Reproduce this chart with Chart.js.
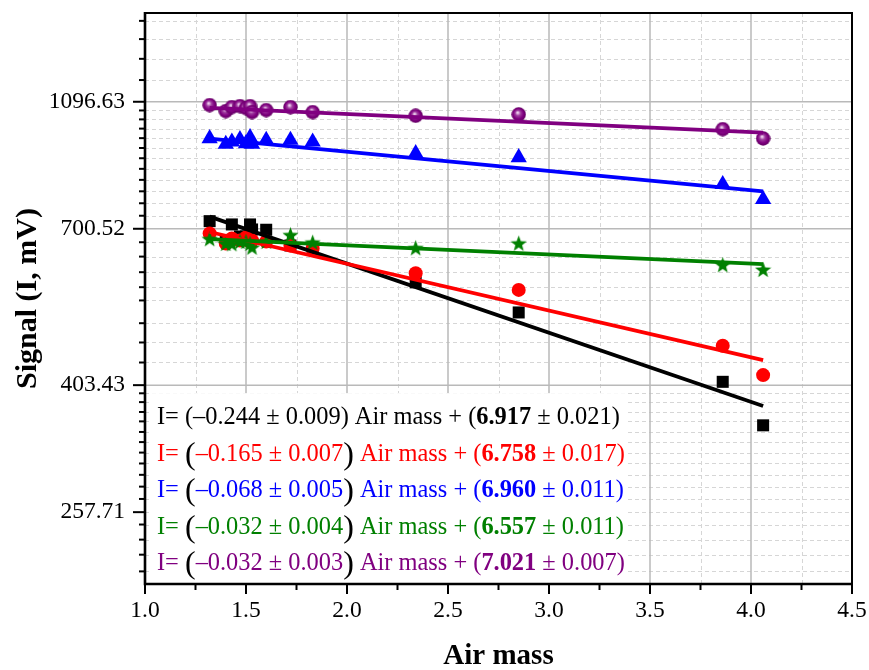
<!DOCTYPE html>
<html><head><meta charset="utf-8">
<script src="https://cdn.jsdelivr.net/npm/chart.js@4/dist/chart.umd.min.js"></script>
<style>html,body{margin:0;padding:0;background:#fff}#wrap{width:869px;height:670px;position:relative}</style>
</head><body><div id="wrap"><canvas id="c"></canvas></div>
<script>
// ---- data ----
const airMass      = [1.32, 1.40, 1.43, 1.47, 1.50, 1.52, 1.53, 1.60, 1.72, 1.83, 2.34, 2.85, 3.86, 4.06];
const signalBlack  = [719.6, 672.1, 711.3, 681.7, 681.7, 711.3, 698.8, 698.1, 660.4, 651.1, 579.8, 521.4, 408.2, 350.1];
const signalRed    = [689.0, 665.1, 677.0, 672.1, 679.3, 669.8, 672.1, 669.8, 660.4, 653.4, 598.8, 564.6, 463.6, 418.0];
const signalBlue   = [963.5, 944.3, 952.0, 960.1, 946.6, 966.9, 944.3, 957.7, 957.7, 952.0, 913.6, 900.8, 819.6, 777.2];
const signalGreen  = [676.3, 665.1, 664.4, 669.8, 669.8, 665.1, 656.4, 669.8, 685.8, 668.1, 655.0, 665.8, 617.0, 606.9];
const signalPurple = [1083.9, 1061.2, 1076.2, 1080.0, 1072.4, 1080.0, 1057.3, 1064.8, 1076.2, 1057.3, 1043.6, 1048.7, 995.6, 963.4];

const fitAirMass   = [1.32, 4.06];
const fitBlack     = [731.2, 374.8];
const fitRed       = [692.6, 440.6];
const fitBlue      = [963.2, 799.6];
const fitGreen     = [675.2, 618.5];
const fitPurple    = [1073.6, 983.7];

const yMajorTicks  = [257.71, 403.43, 700.52, 1096.63];
const yMinorTicks  = [209.1, 221.8, 233.9, 246.7,
                      270.0, 282.0, 294.0, 306.0, 318.0, 330.0, 342.0, 355.0, 367.0, 380.0, 392.0,
                      437.0, 469.0, 502.0, 544.0, 570.0, 601.0, 635.0, 668.0,
                      733.5, 766.5, 799.5, 832.5, 865.5, 898.5, 931.5, 964.5, 997.5, 1030.5, 1063.5,
                      1184, 1276, 1368, 1459];
const xMajorTicks  = [1.0, 1.5, 2.0, 2.5, 3.0, 3.5, 4.0, 4.5];
const xMinorTicks  = [1.25, 1.75, 2.25, 2.75, 3.25, 3.75, 4.25];

const eqSlope        = ['–0.244', '–0.165', '–0.068', '–0.032', '–0.032'];
const eqSlopeErr     = ['0.009', '0.007', '0.005', '0.004', '0.003'];
const eqIntercept    = ['6.917', '6.758', '6.960', '6.557', '7.021'];
const eqInterceptErr = ['0.021', '0.017', '0.011', '0.011', '0.007'];
const seriesColors   = ['#000000', '#ff0000', '#0000ff', '#008000', '#800080'];

// ---- marker images ----
function starImg(color, size){
  const c = document.createElement('canvas'); c.width = size; c.height = size;
  const g = c.getContext('2d'); const cx = size/2, cy = size/2 + 0.8, R = size/2, r = R*0.42;
  g.beginPath();
  for (let i = 0; i < 10; i++){
    const a = -Math.PI/2 + i*Math.PI/5; const rr = i%2 ? r : R;
    g.lineTo(cx + rr*Math.cos(a), cy + rr*Math.sin(a));
  }
  g.closePath(); g.fillStyle = color; g.fill(); return c;
}
function sphereImg(size){
  const c = document.createElement('canvas'); c.width = size; c.height = size;
  const g = c.getContext('2d'); const R = size/2;
  const grd = g.createRadialGradient(R*0.85, R*0.75, 0.5, R, R, R);
  grd.addColorStop(0, '#f2d9f2'); grd.addColorStop(0.3, '#a040a0'); grd.addColorStop(0.65, '#800080'); grd.addColorStop(1, '#5e005e');
  g.beginPath(); g.arc(R, R, R-0.3, 0, Math.PI*2); g.fillStyle = grd; g.fill(); return c;
}
const starMarker = starImg('#008000', 17);
const sphereMarker = sphereImg(15);

const pts = (xs, ys) => xs.map((x, i) => ({x, y: ys[i]}));
const FONT = "'Liberation Serif', 'Times New Roman', serif";

// ---- plugin: grid, box, ticks, equations ----
const decor = {
  id: 'decor',
  beforeDatasetsDraw(chart){
    const {ctx, chartArea: a, scales: {x, y}} = chart;
    ctx.save();
    ctx.lineWidth = 1;
    ctx.strokeStyle = '#d6d6d6'; ctx.setLineDash([4, 3]);
    xMinorTicks.forEach(v => { const p = Math.round(x.getPixelForValue(v)) + 0.5; ctx.beginPath(); ctx.moveTo(p, a.top); ctx.lineTo(p, a.bottom); ctx.stroke(); });
    yMinorTicks.concat([257.71]).forEach(v => { const p = Math.round(y.getPixelForValue(v)) + 0.5; ctx.beginPath(); ctx.moveTo(a.left, p); ctx.lineTo(a.right, p); ctx.stroke(); });
    ctx.setLineDash([]); ctx.strokeStyle = '#b9b9b9'; ctx.lineWidth = 1.5;
    xMajorTicks.filter(v => v > 1.0 && v < 4.5).forEach(v => { const p = x.getPixelForValue(v); ctx.beginPath(); ctx.moveTo(p, a.top); ctx.lineTo(p, a.bottom); ctx.stroke(); });
    yMajorTicks.filter(v => v > 300).forEach(v => { const p = y.getPixelForValue(v); ctx.beginPath(); ctx.moveTo(a.left, p); ctx.lineTo(a.right, p); ctx.stroke(); });
    ctx.fillStyle = '#ffffff';
    const bt = y.getPixelForValue(403.43) + 8;
    ctx.fillRect(a.left + 7, bt, 475, a.bottom - bt - 1);
    ctx.restore();
  },
  afterDatasetsDraw(chart){
    const {ctx, chartArea: a, scales: {x, y}} = chart;
    ctx.save();
    ctx.strokeStyle = '#000'; ctx.lineWidth = 2;
    ctx.strokeRect(a.left, a.top, a.right - a.left, a.bottom - a.top);
    ctx.lineWidth = 2.6;
    ctx.beginPath(); ctx.moveTo(a.left, a.top - 1); ctx.lineTo(a.left, a.bottom); ctx.lineTo(a.right + 1, a.bottom); ctx.stroke();
    ctx.lineWidth = 2;
    yMajorTicks.forEach(v => { const p = y.getPixelForValue(v); ctx.beginPath(); ctx.moveTo(a.left, p); ctx.lineTo(a.left - 12, p); ctx.stroke(); });
    yMinorTicks.forEach(v => { const p = y.getPixelForValue(v); ctx.beginPath(); ctx.moveTo(a.left, p); ctx.lineTo(a.left - 6, p); ctx.stroke(); });
    xMajorTicks.forEach(v => { const p = x.getPixelForValue(v); ctx.beginPath(); ctx.moveTo(p, a.bottom); ctx.lineTo(p, a.bottom + 10); ctx.stroke(); });
    xMinorTicks.forEach(v => { const p = x.getPixelForValue(v); ctx.beginPath(); ctx.moveTo(p, a.bottom); ctx.lineTo(p, a.bottom + 6); ctx.stroke(); });
    const fs = 24.4, big = 32;
    ctx.textBaseline = 'alphabetic'; ctx.textAlign = 'left';
    const y0 = y.getPixelForValue(403.43) + 39;
    for (let i = 0; i < 5; i++){
      const col = seriesColors[i];
      let cx = a.left + 12; const by = y0 + i*36.5;
      const put = (t, color, font, dy) => { ctx.font = font; ctx.fillStyle = color; ctx.fillText(t, cx, by + (dy || 0)); cx += ctx.measureText(t).width; };
      const norm = fs + 'px ' + FONT, bold = 'bold ' + fs + 'px ' + FONT, bigF = big + 'px ' + FONT;
      put('I= ', col, norm);
      if (i === 0) put('(', col, norm); else put('(', '#000', bigF, 3);
      put(eqSlope[i] + ' ± ' + eqSlopeErr[i], col, norm);
      if (i === 0) put(')', col, norm); else put(')', '#000', bigF, 3);
      put(' Air mass + (', col, norm);
      put(eqIntercept[i], col, bold);
      put(' ± ' + eqInterceptErr[i] + ')', col, norm);
    }
    ctx.restore();
  }
};

const scatterDs = (label, data, style, color, radius, order) => ({
  type: 'scatter', label, data, pointStyle: style, pointRadius: radius, pointHoverRadius: radius,
  backgroundColor: color, borderColor: color, borderWidth: 0, order
});
const lineDs = (label, data, color, order) => ({
  type: 'line', label, data, borderColor: color, borderWidth: 3.8, pointRadius: 0, fill: false, tension: 0, order
});

new Chart(document.getElementById('c'), {
  data: {
    datasets: [
      lineDs('fit black', pts(fitAirMass, fitBlack), '#000000', 5),
      lineDs('fit red', pts(fitAirMass, fitRed), '#ff0000', 4),
      lineDs('fit blue', pts(fitAirMass, fitBlue), '#0000ff', 3),
      lineDs('fit green', pts(fitAirMass, fitGreen), '#008000', 2),
      lineDs('fit purple', pts(fitAirMass, fitPurple), '#800080', 1),
      scatterDs('black', pts(airMass, signalBlack), 'rect', '#000000', 8.5, 10),
      scatterDs('red', pts(airMass, signalRed), 'circle', '#ff0000', 7, 9),
      scatterDs('blue', pts(airMass, signalBlue), 'triangle', '#0000ff', 9.4, 8),
      scatterDs('green', pts(airMass, signalGreen), starMarker, '#008000', 8, 7),
      scatterDs('purple', pts(airMass, signalPurple), sphereMarker, '#800080', 7.5, 6)
    ]
  },
  options: {
    responsive: true, maintainAspectRatio: false, animation: false,
    events: [],
    layout: { padding: { top: 13, right: 17, left: 0, bottom: 0 } },
    plugins: { legend: { display: false }, tooltip: { enabled: false } },
    scales: {
      x: {
        type: 'linear', min: 1.0, max: 4.5,
        afterBuildTicks: s => { s.ticks = xMajorTicks.map(v => ({value: v})); },
        afterFit: s => { s.height = 86; s.paddingLeft = 0; s.paddingRight = 0; },
        grid: { display: false, drawTicks: false }, border: { display: false },
        ticks: { padding: 13, color: '#000', font: { family: FONT, size: 23.5 }, callback: v => Number(v).toFixed(1), maxRotation: 0, autoSkip: false },
        title: { display: true, text: 'Air mass', color: '#000', font: { family: FONT, size: 29, weight: 'bold', lineHeight: 1 }, padding: { top: 0, bottom: -1 } }
      },
      y: {
        type: 'logarithmic', min: 200, max: 1500,
        afterBuildTicks: s => { s.ticks = yMajorTicks.map(v => ({value: v})); },
        afterFit: s => { s.width = 145; s.paddingTop = 0; s.paddingBottom = 0; },
        grid: { display: false, drawTicks: false }, border: { display: false },
        ticks: { padding: 20, color: '#000', font: { family: FONT, size: 23.5 }, callback: v => Number(v).toFixed(2), autoSkip: false },
        title: { display: true, text: 'Signal (I, mV)', color: '#000', font: { family: FONT, size: 30, weight: 'bold', lineHeight: 1 }, padding: { top: 13, bottom: 0 } }
      }
    }
  },
  plugins: [decor]
});
</script>
</body></html>
